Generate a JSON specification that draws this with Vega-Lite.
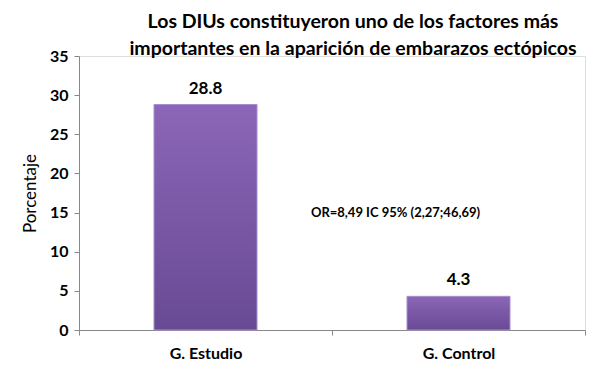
{
  "$schema": "https://vega.github.io/schema/vega-lite/v6.json",
  "width": 506,
  "height": 274,
  "autosize": {"type": "none"},
  "padding": {"left": 79, "top": 56, "right": 23, "bottom": 45},
  "background": "white",
  "title": {
    "text": ["Los DIUs constituyeron uno de los factores más", "importantes en la aparición de embarazos ectópicos"],
    "font": "Lato",
    "fontSize": 19.5,
    "fontWeight": "bold",
    "color": "black",
    "anchor": "middle",
    "dx": 21,
    "offset": -11,
    "lineHeight": 27
  },
  "data": {
    "values": [
      {"grupo": "G. Estudio", "porcentaje": 28.8},
      {"grupo": "G. Control", "porcentaje": 4.3}
    ]
  },
  "encoding": {
    "x": {
      "field": "grupo",
      "type": "nominal",
      "sort": null,
      "scale": {"paddingInner": 0, "paddingOuter": 0},
      "axis": {
        "title": null,
        "labelAngle": 0,
        "labelFont": "Lato",
        "labelFontSize": 16,
        "labelFontWeight": "bold",
        "labelColor": "black",
        "labelPadding": 10,
        "tickBand": "extent",
        "domainColor": "#888888",
        "tickColor": "#888888",
        "tickSize": 5
      }
    },
    "y": {
      "field": "porcentaje",
      "type": "quantitative",
      "scale": {"domain": [0, 35], "nice": false},
      "axis": {
        "title": "Porcentaje",
        "titleFont": "Lato",
        "titleFontSize": 17,
        "titleFontWeight": "normal",
        "titleColor": "black",
        "titlePadding": 10,
        "values": [0, 5, 10, 15, 20, 25, 30, 35],
        "labelFont": "Lato",
        "labelFontSize": 16,
        "labelFontWeight": "bold",
        "labelColor": "black",
        "labelPadding": 6,
        "grid": false,
        "domainColor": "#888888",
        "tickColor": "#888888",
        "tickSize": 5
      }
    }
  },
  "layer": [
    {
      "mark": {
        "type": "bar",
        "size": 103,
        "stroke": "#a58fcb",
        "strokeWidth": 1,
        "color": {
          "gradient": "linear",
          "x1": 0, "y1": 0, "x2": 0, "y2": 1,
          "stops": [
            {"offset": 0, "color": "#8c66b8"},
            {"offset": 1, "color": "#684a94"}
          ]
        }
      }
    },
    {
      "mark": {
        "type": "text",
        "dy": -16,
        "font": "Lato",
        "fontSize": 17,
        "fontWeight": "bold",
        "color": "black"
      },
      "encoding": {
        "text": {"field": "porcentaje", "type": "quantitative", "format": ".1f"}
      }
    },
    {
      "data": {"values": [{"grupo": "G. Control", "porcentaje": 15, "nota": "OR=8,49 IC 95% (2,27;46,69)"}]},
      "mark": {
        "type": "text",
        "dx": -63,
        "font": "Lato",
        "fontSize": 13,
        "fontWeight": "bold",
        "color": "black"
      },
      "encoding": {
        "text": {"field": "nota"}
      }
    }
  ]
}
